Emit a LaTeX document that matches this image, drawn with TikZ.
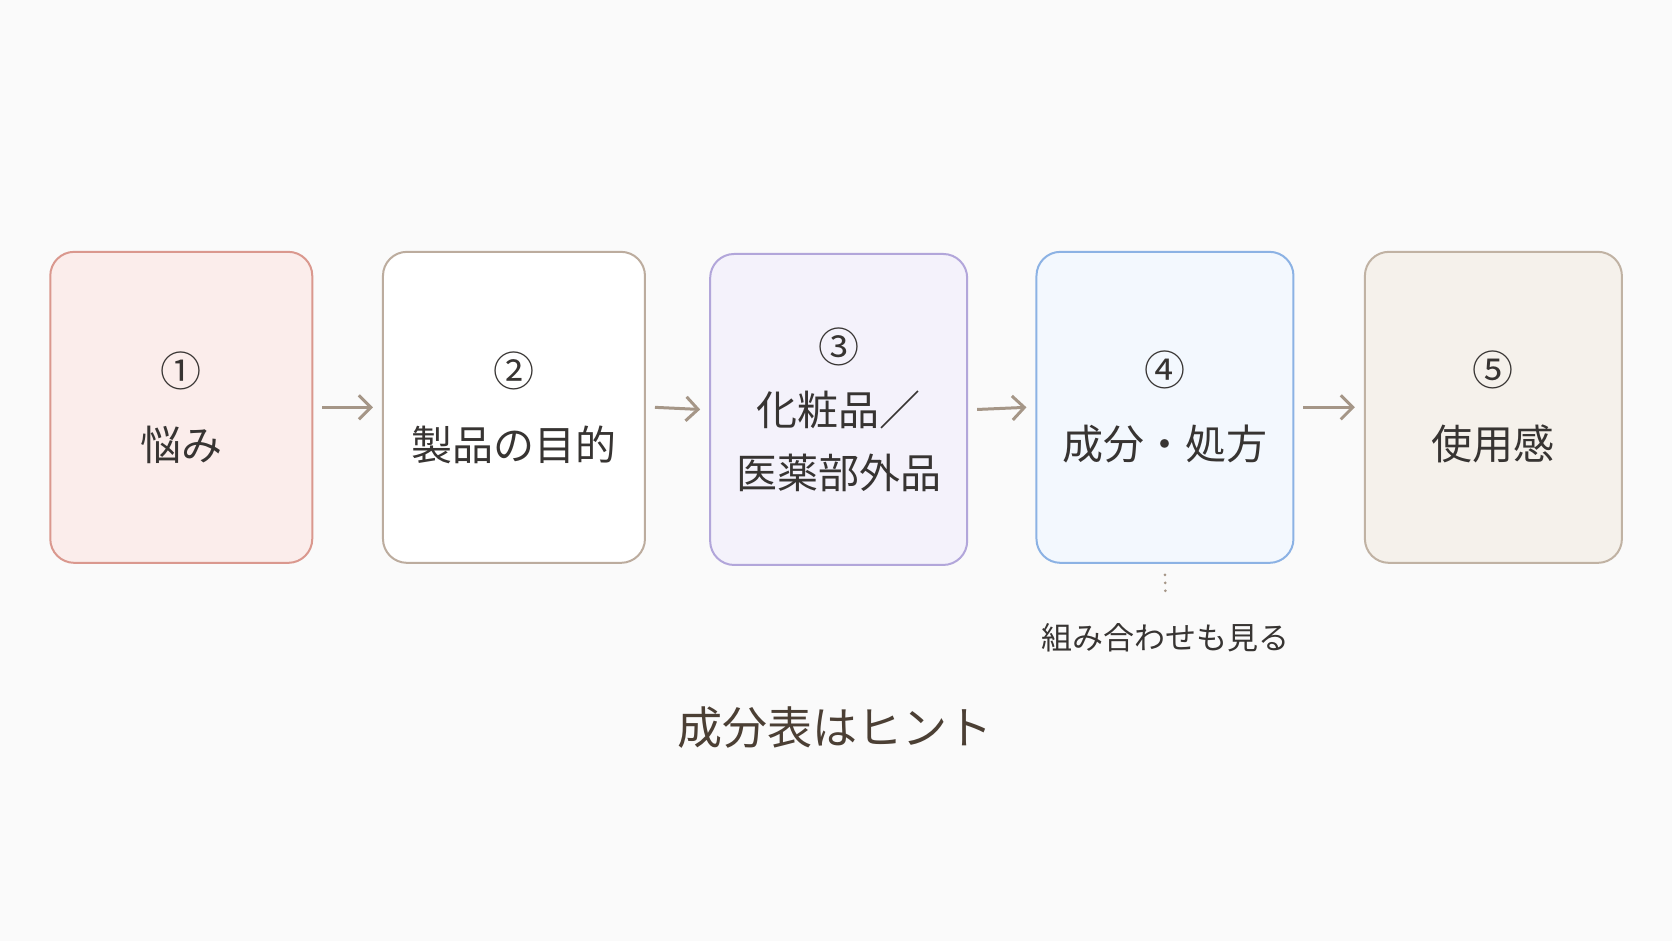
\documentclass[tikz,border=0pt]{standalone}
\usepackage{fontspec}
\setmainfont{Noto Sans CJK JP}
\usetikzlibrary{positioning,arrows.meta}
\definecolor{bgc}{RGB}{250,250,250}
\definecolor{txt}{RGB}{55,52,50}
\definecolor{arrc}{RGB}{165,150,135}
\definecolor{bdA}{RGB}{218,152,142}\definecolor{fA}{RGB}{251,237,235}
\definecolor{bdB}{RGB}{188,172,158}\definecolor{fB}{RGB}{255,255,255}
\definecolor{bdC}{RGB}{178,166,218}\definecolor{fC}{RGB}{244,242,251}
\definecolor{bdD}{RGB}{140,178,228}\definecolor{fD}{RGB}{243,248,254}
\definecolor{bdE}{RGB}{192,178,163}\definecolor{fE}{RGB}{245,241,235}
\tikzset{
  step/.style={draw=#1, line width=2pt, rounded corners=24pt, minimum width=262pt, minimum height=311pt,
    align=center, text=txt, font=\fontsize{41}{74}\selectfont},
  flow/.style={draw=arrc, line width=3pt, -{Straight Barb[length=12pt,width=24pt]}},
}
\begin{document}
\begin{tikzpicture}[x=1.0663pt,y=1.0663pt,yscale=-1]
\fill[bgc] (0,0) rectangle (1568,882.5);
\useasboundingbox (0,0) rectangle (1568,882.5);
% boxes
\node[step=bdA, fill=fA] (s1) at (170,382) {①\\悩み};
\node[step=bdB, fill=fB] (s2) at (482,382) {②\\製品の目的};
\node[step=bdC, fill=fC, minimum width=257pt, font=\fontsize{41}{63}\selectfont] (s3) at (786.5,384) {③\\化粧品／\\医薬部外品};
\node[step=bdD, fill=fD, minimum width=257pt] (s4) at (1092.5,382) {④\\成分・処方};
\node[step=bdE, fill=fE, minimum width=257pt] (s5) at (1400.5,382) {⑤\\使用感};
% arrows
\foreach \a/\b in {s1/s2,s2/s3,s3/s4,s4/s5}
  \draw[flow] ([xshift=9pt]\a.east) -- ([xshift=-9pt]\b.west);
% note
\coordinate (d1) at ([yshift=11pt]s4.south);
\node[text=txt, font=\fontsize{31}{36}\selectfont] (note) at (1093,598) {組み合わせも見る};
\draw[arrc, line width=3pt, line cap=round, dash pattern=on 0pt off 8pt] (d1) -- ([yshift=-22pt]note.north);
\node[text=txt!85!brown, font=\fontsize{45}{50}\selectfont] (hint) at (783,682) {成分表はヒント};
\end{tikzpicture}
\end{document}
